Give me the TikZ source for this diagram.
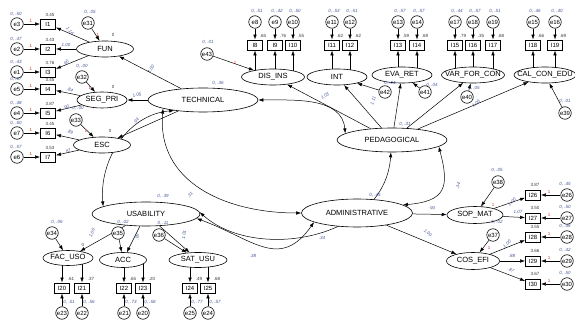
\documentclass[tikz,border=0pt]{standalone}
\usepackage{fontspec}
\setmainfont{Liberation Sans}
\usetikzlibrary{arrows.meta,shapes.geometric}

\definecolor{estblue}{RGB}{70,85,150}
\definecolor{estgray}{RGB}{55,55,65}
\definecolor{onered}{RGB}{200,60,40}

\pgfdeclarelayer{back}
\pgfsetlayers{back,main}

\tikzset{
    lat/.style={draw, ellipse, fill=white, line width=0.6pt, inner sep=0pt,
        minimum width=#1, minimum height=24pt, font=\fontsize{7.5}{8}\selectfont,
        execute at begin node={\hbox to 0pt\bgroup\hss},
        execute at end node={\hss\egroup}},
    fac/.style={lat=#1, minimum height=16pt},
    obs/.style={draw, fill=white, line width=0.9pt, inner sep=1pt,
        minimum width=15pt, minimum height=10pt, font=\fontsize{6}{6}\selectfont},
    err/.style={draw, circle, fill=white, line width=0.6pt, inner sep=0.5pt,
        minimum size=12.5pt, font=\fontsize{6}{6}\selectfont},
    num/.style={font=\fontsize{4.5}{5}\selectfont, text=estgray, inner sep=0pt},
    vlab/.style={num, text=estblue, font=\fontsize{4.5}{5}\selectfont\itshape},
    one/.style={num, text=onered},
    reg/.style={-{Latex[length=5pt,width=3.5pt]}, line width=0.5pt},
    cov/.style={{Latex[length=5pt,width=3.5pt]}-{Latex[length=5pt,width=3.5pt]}, line width=0.5pt},
}

\begin{document}
\begin{tikzpicture}[x=1pt, y=-1pt]
\useasboundingbox (0,0) rectangle (575,320);

% second order
\node[lat=110pt] (tec) at (203,100) {TECHNICAL};
\node[lat=108pt] (usa) at (146,214) {USABILITY};
\node[lat=110pt] (ped) at (392,140) {PEDAGOGICAL};
\node[lat=111pt, minimum height=28pt] (adm) at (357,213) {ADMINISTRATIVE};

% first order
\node[fac=57pt] (fun) at (105,49) {FUN};
\node[fac=50pt] (segpri) at (102,100) {SEG\_PRI};
\node[fac=57pt] (esc) at (102,145) {ESC};
\node[fac=50pt, minimum height=15pt] (facuso) at (68,258) {FAC\_USO};
\node[fac=47pt, minimum height=15pt] (acc) at (123,260) {ACC};
\node[fac=58pt, minimum height=15pt] (satusu) at (198,260) {SAT\_USU};
\node[fac=63pt] (disins) at (273,77) {DIS\_INS};
\node[fac=60pt] (int) at (337,77) {INT};
\node[fac=60pt] (evaret) at (402,75) {EVA\_RET};
\node[fac=63pt] (varforcon) at (473,75) {VAR\_FOR\_CON};
\node[fac=62pt] (calconedu) at (545,75) {CAL\_CON\_EDU};
\node[fac=56pt, minimum height=17pt] (sopmat) at (475,215) {SOP\_MAT};
\node[fac=53pt, minimum height=17pt] (cosefi) at (473,261) {COS\_EFI};

% residuals of the factors
\node[err] (e31) at (88,23) {e31};
\node[err] (e32) at (82,77) {e32};
\node[err] (e33) at (76,120) {e33};
\node[err] (e34) at (52,233) {e34};
\node[err] (e35) at (118,233) {e35};
\node[err] (e36) at (159,235) {e36};
\node[err] (e43) at (207,54) {e43};
\node[err] (e42) at (385,92) {e42};
\node[err] (e41) at (425,92) {e41};
\node[err] (e40) at (467,97) {e40};
\node[err] (e39) at (565,113) {e39};
\node[err] (e38) at (498,182) {e38};
\node[err] (e37) at (493,235) {e37};

% items, left
\foreach \e/\i/\y/\m/\v in {e3/I1/24/3.45/{0, .50}, e2/I2/49/3.43/{0, .47},
    e1/I3/72/3.76/{0, .43}, e5/I4/89/3.45/{0, .67}, e4/I5/113/3.87/{0, .48},
    e7/I6/133/3.45/{0, .60}, e6/I7/157/3.53/{0, .57}}
{
    \node[err] (\e) at (17,\y) {\e};
    \node[obs] (\i) at (48,\y) {\i};
    \node[num] at (50,\y-9) {\m};
    \node[vlab] at (16,\y-10) {\v};
    \node[one] at (31,\y-3) {1};
}

% items, top
\foreach \e/\i/\x/\m/\v in {e8/I8/255/.65/{0, .51}, e9/I9/275/.76/{0, .42},
    e10/I10/293/.55/{0, .50}, e11/I11/332/.62/{0, .53}, e12/I12/350/.62/{0, .51},
    e13/I13/398/.59/{0, .57}, e14/I14/417/.69/{0, .57}, e17/I15/455/.79/{0, .44},
    e18/I16/473/.35/{0, .57}, e19/I17/493/.68/{0, .51}, e15/I18/533/.66/{0, .46},
    e16/I19/555/.69/{0, .40}}
{
    \node[err] (\e) at (\x,22) {\e};
    \node[obs] (\i) at (\x,45) {\i};
    \node[num] at (\x+8,36) {\m};
    \node[vlab] at (\x+2,11) {\v};
}

% items, bottom
\foreach \e/\i/\x/\m/\v in {e23/I20/62/.61/{0, .51}, e22/I21/82/.37/{0, .56},
    e21/I22/124/.65/{0, .73}, e20/I23/143/.20/{0, .58},
    e25/I24/190/.49/{0, .77}, e24/I25/208/.68/{0, .57}}
{
    \node[err] (\e) at (\x,313) {\e};
    \node[obs] (\i) at (\x,288) {\i};
    \node[num] at (\x+9,279) {\m};
    \node[vlab] at (\x+7,302) {\v};
}

% items, right
\foreach \e/\i/\y/\m/\v in {e26/I26/195/3.87/{0, .45}, e27/I27/218/3.50/{0, .50},
    e28/I28/237/3.55/{0, .46}, e29/I29/261/3.66/{0, .42}, e30/I30/284/3.67/{0, .50}}
{
    \node[err] (\e) at (567,\y) {\e};
    \node[obs] (\i) at (533,\y) {\i};
    \node[num] at (535,\y-10) {\m};
    \node[vlab] at (565,\y-11) {\v};
    \node[one] at (549,\y-3) {1};
}

\begin{pgfonlayer}{back}
\foreach \e/\i/\f in {e3/I1/fun, e2/I2/fun, e1/I3/fun, e5/I4/segpri,
    e4/I5/segpri, e7/I6/esc, e6/I7/esc}
{
    \draw[reg] (\e) -- (\i);
    \draw[reg] (\f) -- (\i);
}
\foreach \e/\i/\f in {e8/I8/disins, e9/I9/disins, e10/I10/disins, e11/I11/int,
    e12/I12/int, e13/I13/evaret, e14/I14/evaret, e17/I15/varforcon,
    e18/I16/varforcon, e19/I17/varforcon, e15/I18/calconedu, e16/I19/calconedu,
    e23/I20/facuso, e22/I21/facuso, e21/I22/acc, e20/I23/acc, e25/I24/satusu,
    e24/I25/satusu}
{
    \draw[reg] (\e) -- (\i);
    \draw[reg] (\i |- \f) -- (\i);
}
\foreach \e/\i/\f in {e26/I26/sopmat, e27/I27/sopmat, e28/I28/cosefi,
    e29/I29/cosefi, e30/I30/cosefi}
{
    \draw[reg] (\e) -- (\i);
    \draw[reg] (\f) -- (\i);
}
\foreach \e/\f in {e31/fun, e32/segpri, e33/esc, e34/facuso, e35/acc, e36/satusu,
    e43/disins, e42/int, e41/evaret, e40/varforcon, e39/calconedu, e38/sopmat,
    e37/cosefi}
    \draw[reg] (\e) -- (\f);

% structural paths
\draw[reg] (tec) -- (fun);
\draw[reg] (tec) -- (segpri);
\draw[reg] (tec) -- (esc);
\draw[reg] (usa) -- (facuso);
\draw[reg] (usa) -- (acc);
\draw[reg] (usa) -- (satusu);
\draw[reg] (ped) -- (disins);
\draw[reg] (ped) -- (int);
\draw[reg] (ped) -- (evaret);
\draw[reg] (ped) -- (varforcon);
\draw[reg] (ped) -- (calconedu);
\draw[reg] (adm) -- (sopmat);
\draw[reg] (adm) -- (cosefi);

% covariances
\draw[cov] (usa.170) to[out=95, in=185] (tec.200);
\draw[cov] (tec.192) to[out=265, in=180, looseness=1.1] (adm.west);
\draw[cov] (tec.east) to[out=0, in=95] (ped.172);
\draw[cov] (usa.-5) to[out=-20, in=235, looseness=1.3] (adm.192);
\draw[cov] (usa.2) .. controls (255,262) and (385,240) .. (ped.265);
\draw[cov] (adm.10) to[out=5, in=-75, looseness=1.6] (ped.-8);
\end{pgfonlayer}

% estimates
\node[vlab] at (218,83) {0, .36};
\node[vlab] at (163,196) {0, .39};
\node[vlab] at (405,124) {0, .31};
\node[vlab] at (375,195) {0, .45};
\node[vlab, rotate=50] at (190,195) {.31};
\node[vlab] at (253,256) {.38};
\node[vlab] at (322,238) {.34};
\node[vlab, rotate=70] at (458,186) {.34};

\node[vlab] at (90,12) {0, .05};
\node[vlab] at (82,66) {0, .00};
\node[vlab] at (78,108) {0, .00};
\node[vlab] at (57,222) {0, .06};
\node[vlab] at (123,222) {0, .02};
\node[vlab] at (163,223) {0, .11};
\node[vlab] at (208,42) {0, .01};
\node[vlab] at (390,83) {0, .04};
\node[vlab] at (432,85) {0, .04};
\node[vlab] at (474,88) {0, .05};
\node[vlab] at (565,101) {0, .01};
\node[vlab] at (497,170) {0, .05};
\node[vlab] at (497,222) {0, .02};

\node[num] at (113,35) {0};
\node[num] at (113,87) {0};
\node[num] at (110,131) {0};
\node[num] at (83,245) {0};
\node[num] at (482,206) {0};
\node[one] at (98,35) {1};
\node[one] at (90,88) {1};
\node[one] at (86,131) {1};
\node[one] at (235,63) {1};
\node[one] at (493,205) {1};
\node[one] at (489,248) {1};

\node[vlab, rotate=58] at (151,69) {1.00};
\node[vlab, rotate=15] at (137,95) {1.05};
\node[vlab, rotate=45] at (136,121) {.94};
\node[vlab, rotate=65] at (92,233) {1.06};
\node[vlab, rotate=90] at (137,237) {.89};
\node[vlab, rotate=80] at (184,235) {1.01};
\node[vlab, rotate=35] at (325,96) {1.03};
\node[vlab, rotate=70] at (373,101) {1.11};
\node[vlab, rotate=40] at (476,104) {1.06};
\node[vlab, rotate=-10] at (432,208) {.90};
\node[vlab, rotate=-40] at (428,233) {1.00};
\node[vlab, rotate=40] at (512,202) {1.00};
\node[vlab] at (518,212) {1.07};
\node[vlab, rotate=40] at (507,244) {1.00};
\node[vlab] at (512,256) {.88};
\node[vlab, rotate=-30] at (511,270) {.87};
\node[vlab, rotate=-50] at (70,31) {1.16};
\node[vlab] at (66,45) {1.00};
\node[vlab, rotate=50] at (66,63) {.90};
\node[vlab, rotate=-20] at (70,90) {.84};
\node[vlab, rotate=20] at (66,107) {.90};
\node[vlab, rotate=-25] at (70,132) {.89};
\node[vlab, rotate=25] at (68,151) {.87};
\end{tikzpicture}
\end{document}
